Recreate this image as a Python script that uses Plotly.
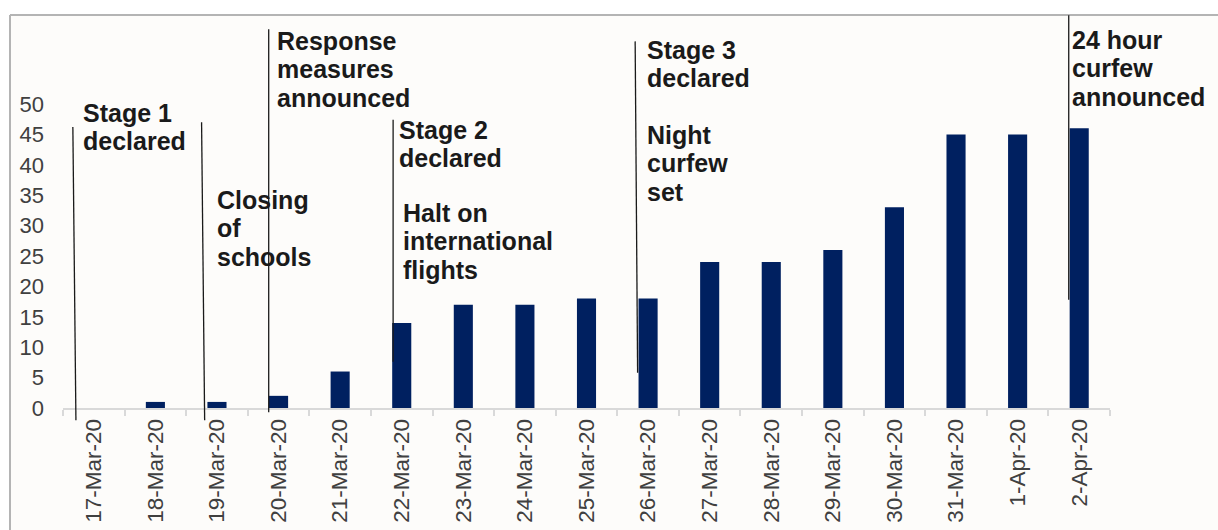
import plotly.graph_objects as go

# ---- data ----
dates = ['17-Mar-20', '18-Mar-20', '19-Mar-20', '20-Mar-20', '21-Mar-20', '22-Mar-20',
         '23-Mar-20', '24-Mar-20', '25-Mar-20', '26-Mar-20', '27-Mar-20', '28-Mar-20',
         '29-Mar-20', '30-Mar-20', '31-Mar-20', '1-Apr-20', '2-Apr-20']
cases = [0, 1, 1, 2, 6, 14, 17, 17, 18, 18, 24, 24, 26, 33, 45, 45, 46]
y_ticks = [0, 5, 10, 15, 20, 25, 30, 35, 40, 45, 50]

event_dates = ['17-Mar-20', '19-Mar-20', '20-Mar-20', '22-Mar-20', '26-Mar-20', '2-Apr-20']
event_labels = [
    [['Stage 1', 'declared']],
    [['Closing', 'of', 'schools']],
    [['Response', 'measures', 'announced']],
    [['Stage 2', 'declared'], ['Halt on', 'international', 'flights']],
    [['Stage 3', 'declared'], ['Night', 'curfew', 'set']],
    [['24 hour', 'curfew', 'announced']],
]

# ---- styling / placement (not data) ----
W, H = 1218, 530
L, R, T, B = 63, 108, 104, 122
plot_h = H - T - B
ncat = len(dates)
YMAX = 50

line_dx = [(-0.34, -0.29), (-0.25, -0.20), (-0.16, -0.16), (-0.14, -0.14), (-0.21, -0.17), (-0.17, -0.17)]
line_y = [(46.2, -2.0), (47.0, -2.0), (62.3, -0.7), (47.4, 7.6), (60.3, 5.8), (64.6, 17.8)]
# text placement: (offset in category units, pixel y of first line centre)
text_pos = [
    [(-0.20, 113)],
    [(-0.04, 200)],
    [(-0.06, 41)],
    [(-0.07, 130), (-0.01, 213)],
    [(-0.05, 50), (-0.05, 135)],
    [(-0.15, 40)],
]

FS_ANN = 25
LINE_STEP = 28.3


def xdom(pos):
    return (pos + 0.5) / ncat


fig = go.Figure()
fig.add_trace(go.Bar(x=dates, y=cases, marker=dict(color='#002060', line=dict(width=0)),
                     width=0.31))

shapes = []
fx0 = (10 - L) / (W - L - R)
fy0 = (H - 15 - B) / plot_h
shapes.append(dict(type='rect', xref='paper', yref='paper', x0=fx0, x1=2, y0=-1, y1=fy0,
                   fillcolor='#fdfcfa', line=dict(width=0), layer='below'))
shapes.append(dict(type='line', xref='paper', yref='paper', x0=fx0, x1=2, y0=fy0, y1=fy0,
                   line=dict(color='#b4b4b4', width=2)))
shapes.append(dict(type='line', xref='paper', yref='paper', x0=fx0, x1=fx0, y0=fy0, y1=-1,
                   line=dict(color='#b4b4b4', width=2)))

annotations = []
for k, d in enumerate(event_dates):
    i = dates.index(d)
    (dt, db) = line_dx[k]
    (yt, yb) = line_y[k]
    shapes.append(dict(type='line', xref='x domain', yref='y domain',
                       x0=xdom(i + dt), x1=xdom(i + db), y0=yt / YMAX, y1=yb / YMAX,
                       line=dict(color='#1a1a1a', width=1.3)))
    for block, (dx, cy) in zip(event_labels[k], text_pos[k]):
        for j, line in enumerate(block):
            py = cy + j * LINE_STEP
            annotations.append(dict(text='<b>' + line + '</b>', xref='x', yref='paper',
                                    x=i + dx, y=(H - B - py) / plot_h,
                                    xanchor='left', yanchor='middle', align='left',
                                    showarrow=False,
                                    font=dict(family='Liberation Sans, Arial', size=FS_ANN,
                                              color='#1a1a1a')))

fig.update_layout(
    width=W, height=H,
    margin=dict(l=L, r=R, t=T, b=B, pad=0, autoexpand=False),
    paper_bgcolor='#ffffff', plot_bgcolor='rgba(0,0,0,0)',
    showlegend=False,
    shapes=shapes, annotations=annotations,
    font=dict(family='Liberation Sans, Arial', color='#404040'),
)
fig.update_xaxes(type='category', showgrid=False, showline=True, linecolor='#d9d9d9', linewidth=2,
                 ticks='outside', tickson='boundaries', ticklen=6, tickcolor='#d9d9d9', tickwidth=2,
                 tickangle=-90, tickfont=dict(size=22.5, color='#404040'), zeroline=False,
                 range=[-0.5, ncat - 0.5], automargin=False)
fig.update_yaxes(range=[0, YMAX], tickvals=y_ticks, showgrid=False, showline=False, zeroline=False,
                 ticks='', tickfont=dict(size=22, color='#404040'), ticklabelstandoff=18,
                 automargin=False)

fig.write_html('out.html')
